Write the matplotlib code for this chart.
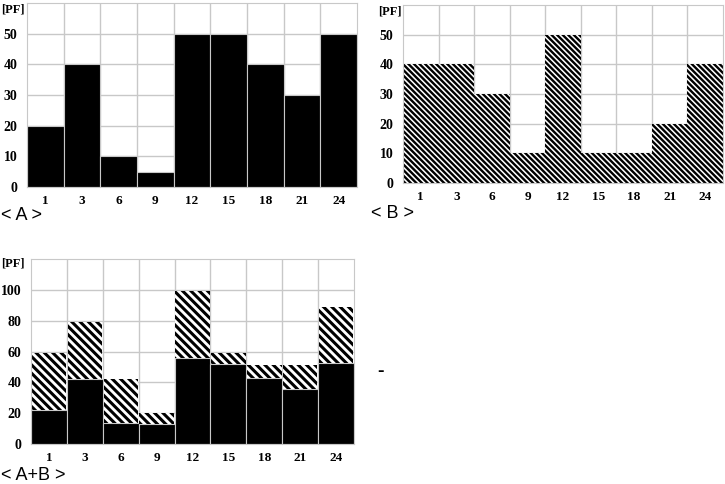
import matplotlib.pyplot as plt
import numpy as np

hours = ['1', '3', '6', '9', '12', '15', '18', '21', '24']
pf_a = [20, 40, 10, 5, 50, 50, 40, 30, 50]
pf_b = [40, 40, 30, 10, 50, 10, 10, 20, 40]
# combined chart: black part and total height
sum_a = [22, 42, 13.5, 13, 55.5, 52, 43, 35.5, 52.5]
sum_total = [59, 79, 42, 20, 99, 59, 51, 51, 89]

serif = 'Liberation Serif'
grid_c = '#c8c8c8'


def setup(ax, ymax, step):
    x = np.arange(len(hours))
    ax.set_xlim(-0.5, len(hours) - 0.5)
    ax.set_ylim(0, ymax)
    ax.set_xticks(x)
    ax.set_xticklabels(hours, fontfamily=serif, fontweight='bold', fontsize=9.5)
    ax.set_yticks(np.arange(0, ymax, step))
    ax.set_yticklabels([str(v) for v in np.arange(0, ymax, step)],
                       fontfamily=serif, fontweight='bold', fontsize=10)
    ax.set_xticks(x[:-1] + 0.5, minor=True)
    ax.tick_params(which='both', length=0)
    ax.tick_params(axis='x', pad=6)
    ax.tick_params(axis='y', pad=7)
    ax.grid(True, axis='y', which='major', color=grid_c, lw=1)
    ax.grid(True, axis='x', which='minor', color=grid_c, lw=1)
    ax.set_axisbelow(True)
    for s in ax.spines.values():
        s.set_color(grid_c)
    return x


fig = plt.figure(figsize=(7.25, 4.84), dpi=100)
pf = dict(fontfamily=serif, fontweight='bold', fontsize=9, ha='left', va='top')

# < A >
ax1 = fig.add_axes([0.0372, 0.6136, 0.4552, 0.380])
x = setup(ax1, 60, 10)
ax1.bar(x, pf_a, width=1, color='black', edgecolor=grid_c, lw=0.8)
fig.text(1 / 725, 1 - 3 / 484, '[PF]', **pf)

# < B >
plt.rcParams['hatch.linewidth'] = 1.7
ax2 = fig.add_axes([0.5559, 0.6219, 0.4414, 0.3678])
x = setup(ax2, 60, 10)
ax2.bar(x, pf_b, width=1, color='white', edgecolor='black', lw=0, hatch='\\' * 6)
fig.text(378 / 725, 1 - 5 / 484, '[PF]', **pf)

# < A+B >
plt.rcParams['hatch.linewidth'] = 2.2
ax3 = fig.add_axes([0.0428, 0.0826, 0.4455, 0.3822])
x = setup(ax3, 120, 20)
top_part = [t - a for t, a in zip(sum_total, sum_a)]
ax3.bar(x, sum_a, width=1, color='black', edgecolor=grid_c, lw=0.8)
ax3.bar(x, top_part, bottom=sum_a, width=0.96, color='white', edgecolor='black',
        lw=0, hatch='\\' * 4)
fig.text(1 / 725, 1 - 258 / 484, '[PF]', **pf)

lab = dict(fontfamily='Liberation Sans', fontsize=13, va='center', ha='left')
fig.text(0.002, 1 - 215 / 484, '< A >', **lab)
fig.text(0.512, 1 - 213 / 484, '< B >', **lab)
fig.text(0.002, 1 - 476 / 484, '< A+B >', **lab)
fig.text(377 / 725, 1 - 372 / 484, '-', fontfamily='Liberation Sans',
         fontsize=14, fontweight='bold', va='center', ha='left')

fig.savefig('out.png', dpi=100)
